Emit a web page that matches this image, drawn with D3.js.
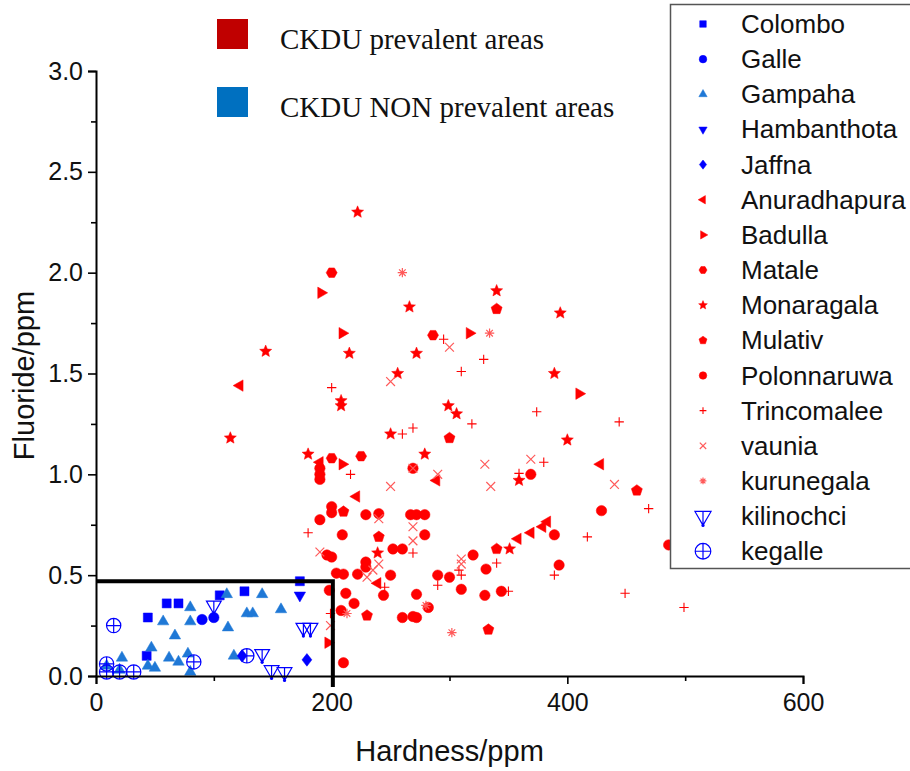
<!DOCTYPE html>
<html>
<head>
<meta charset="utf-8">
<script src="https://cdn.jsdelivr.net/npm/d3@7"></script>
<style>
  body { margin: 0; background: #fff; }
  svg { display: block; }
</style>
</head>
<body>
<svg id="chart" width="910" height="771"></svg>
<script>
// Hardness (ppm), Fluoride (ppm) pairs for each district
const colombo = [[44,0.29],[60,0.36],[70,0.36],[43,0.10],[105,0.40],[126,0.42],[173,0.47]];
const galle = [[90,0.28],[100,0.29]];
const gampaha = [[80,0.34],[57,0.27],[80,0.27],[67,0.20],[111,0.405],[141,0.405],[128,0.31],[133,0.31],
  [157,0.33],[112,0.24],[47,0.14],[62,0.09],[70,0.07],[78,0.11],[117,0.10],[22,0.09],[44,0.05],[50,0.04],
  [80,0.02],[9,0.05],[20,0.03]];
const hambanthota = [[173,0.40]];
const jaffna = [[124,0.10],[179,0.08]];
const anuradhapura = [[122,1.44],[190,1.06],[221,0.89],[289,0.97],[239,0.46],[358,0.68],[369,0.71],
  [379,0.74],[383,0.765],[428,1.05]];
const badulla = [[191,1.90],[209,1.70],[209,1.05],[317,1.70],[410,1.40],[197,0.165]];
const matale = [[200,2.0],[200,1.08],[225,1.09],[286,1.69]];
const monaragala = [[222,2.30],[144,1.61],[215,1.60],[208,1.365],[208,1.34],[114,1.18],[180,1.10],
  [279,1.10],[266,1.83],[340,1.91],[394,1.80],[272,1.60],[256,1.50],[389,1.50],[299,1.34],[306,1.30],
  [250,1.20],[400,1.17],[359,0.97],[351,0.63],[239,0.61]];
const mulativ = [[340,1.82],[300,1.18],[459,0.92],[210,0.815],[240,0.69],[340,0.63],[333,0.23],[230,0.30]];
const polonnaruwa = [[190,1.03],[190,1.0],[190,0.975],[200,0.84],[200,0.81],[190,0.775],[229,0.80],
  [240,0.805],[209,0.70],[196,0.60],[200,0.59],[204,0.51],[210,0.505],[222,0.505],[229,0.565],[229,0.54],
  [198,0.425],[212,0.41],[219,0.36],[208,0.325],[267,0.80],[272,0.80],[279,0.80],[279,0.70],[252,0.63],
  [260,0.63],[250,0.50],[244,0.40],[272,0.405],[282,0.34],[260,0.29],[269,0.295],[272,0.29],[210,0.066],
  [369,1.0],[320,0.60],[331,0.53],[393,0.55],[389,0.70],[290,0.50],[300,0.49],[310,0.43],[330,0.40],
  [344,0.42],[429,0.82],[486,0.65],[269,1.03]];
const trincomalee = [[200,1.43],[216,1.0],[180,0.71],[269,0.61],[245,0.44],[199,0.31],[295,1.67],
  [329,1.57],[310,1.51],[374,1.31],[319,1.25],[444,1.26],[260,1.20],[269,1.23],[380,1.06],[359,1.005],
  [340,0.56],[308,0.525],[310,0.50],[389,0.50],[290,0.45],[350,0.42],[417,0.69],[469,0.83],[449,0.41],
  [499,0.34]];
const vaunia = [[269,1.03],[250,0.94],[240,0.78],[269,0.74],[269,0.67],[190,0.615],[240,0.555],
  [235,0.525],[230,0.49],[199,0.25],[300,1.63],[250,1.46],[290,1.0],[330,1.05],[369,1.075],[335,0.94],
  [310,0.58],[310,0.555],[440,0.95]];
const kurunegala = [[260,2.0],[334,1.70],[213,0.31],[280,0.35],[302,0.215]];
const kilinochci = [[100,0.35],[141,0.11],[149,0.03],[160,0.02],[176,0.24],[182,0.24]];
const kegalle = [[15,0.25],[9,0.06],[9,0.02],[20,0.02],[32,0.02],[83,0.07],[128,0.10]];

const xTicks = [0, 200, 400, 600];
const yTicks = [0, 0.5, 1.0, 1.5, 2.0, 2.5, 3.0];
const boxLimits = { hardness: 201, fluoride: 0.47 };

const BLUE = "#0000ff", LBLUE = "#1f78d6", RED = "#ff0000", PINK = "#ff5a5a";

const series = [
  { name: "Colombo", data: colombo, shape: "square", color: BLUE },
  { name: "Galle", data: galle, shape: "circle", color: BLUE },
  { name: "Gampaha", data: gampaha, shape: "triUp", color: LBLUE },
  { name: "Hambanthota", data: hambanthota, shape: "triDown", color: BLUE },
  { name: "Jaffna", data: jaffna, shape: "diamond", color: BLUE },
  { name: "Anuradhapura", data: anuradhapura, shape: "triLeft", color: RED },
  { name: "Badulla", data: badulla, shape: "triRight", color: RED },
  { name: "Matale", data: matale, shape: "hexagon", color: RED },
  { name: "Monaragala", data: monaragala, shape: "star", color: RED },
  { name: "Mulativ", data: mulativ, shape: "pentagon", color: RED },
  { name: "Polonnaruwa", data: polonnaruwa, shape: "circle", color: RED },
  { name: "Trincomalee", data: trincomalee, shape: "plus", color: RED },
  { name: "vaunia", data: vaunia, shape: "cross", color: PINK },
  { name: "kurunegala", data: kurunegala, shape: "asterisk", color: PINK },
  { name: "kilinochci", data: kilinochci, shape: "funnel", color: BLUE },
  { name: "kegalle", data: kegalle, shape: "globe", color: BLUE }
];

const areaKeys = [
  { label: "CKDU prevalent areas", color: "#c00000" },
  { label: "CKDU NON prevalent areas", color: "#0070c0" }
];

const svg = d3.select("#chart");
const x = d3.scaleLinear().domain([0, 600]).range([96, 803]);
const y = d3.scaleLinear().domain([0, 3]).range([676, 71]);

const SANS = "'Liberation Sans', Arial, sans-serif";

// ---- marker geometry ----
function poly(n, R, rot) {
  const pts = d3.range(n).map(i => {
    const a = rot + i * 2 * Math.PI / n;
    return [R * Math.sin(a), -R * Math.cos(a)];
  });
  return "M" + pts.map(p => p[0].toFixed(2) + "," + p[1].toFixed(2)).join("L") + "Z";
}
function starPath(R) {
  const pts = d3.range(10).map(i => {
    const a = i * Math.PI / 5;
    const r = i % 2 ? R * 0.45 : R;
    return [r * Math.sin(a), -r * Math.cos(a)];
  });
  return "M" + pts.map(p => p[0].toFixed(2) + "," + p[1].toFixed(2)).join("L") + "Z";
}
function circ(r) {
  return `M${-r},0A${r},${r} 0 1,0 ${r},0A${r},${r} 0 1,0 ${-r},0Z`;
}
function markerPath(shape, s) {
  switch (shape) {
    case "square": return `M${-s*0.82},${-s*0.82}h${s*1.64}v${s*1.64}h${-s*1.64}Z`;
    case "circle": return circ(s * 0.95);
    case "triUp": return poly(3, s * 1.2, 0);
    case "triDown": return poly(3, s * 1.2, Math.PI);
    case "triLeft": return poly(3, s * 1.2, -Math.PI / 2);
    case "triRight": return poly(3, s * 1.2, Math.PI / 2);
    case "diamond": return `M0,${-s*1.15}L${s*0.9},0L0,${s*1.15}L${-s*0.9},0Z`;
    case "hexagon": return poly(6, s * 1.0, Math.PI / 6);
    case "pentagon": return poly(5, s * 1.05, 0);
    case "star": return starPath(s * 1.15);
    case "plus": return `M${-s*0.85},0H${s*0.85}M0,${-s*0.85}V${s*0.85}`;
    case "cross": return `M${-s*0.8},${-s*0.8}L${s*0.8},${s*0.8}M${-s*0.8},${s*0.8}L${s*0.8},${-s*0.8}`;
    case "asterisk": return `M${-s*0.85},0H${s*0.85}M0,${-s*0.85}V${s*0.85}` +
      `M${-s*0.6},${-s*0.6}L${s*0.6},${s*0.6}M${-s*0.6},${s*0.6}L${s*0.6},${-s*0.6}`;
    case "funnel": return poly(3, s * 1.55, Math.PI) + `M0,${-s*0.78}V${s*1.55}`;
    case "globe": return circ(s * 1.3) + `M${-s*1.3},0H${s*1.3}M0,${-s*1.3}V${s*1.3}`;
  }
}
const outlined = new Set(["plus", "cross", "asterisk", "funnel", "globe"]);

function drawMarker(g, shape, color, s) {
  const p = g.append("path").attr("d", markerPath(shape, s));
  if (outlined.has(shape)) {
    p.attr("fill", "none").attr("stroke", color).attr("stroke-width", shape === "plus" ? 1.1 : 1.2);
  } else {
    p.attr("fill", color).attr("stroke", color).attr("stroke-width", 0.5);
  }
  if (shape === "funnel") {
    g.append("circle").attr("cy", s * 1.55).attr("r", 1.6).attr("fill", color);
  }
}

// ---- data points ----
const plot = svg.append("g");
series.forEach(sr => {
  sr.data.forEach(d => {
    const g = plot.append("g").attr("transform", `translate(${x(d[0])},${y(d[1])})`);
    drawMarker(g, sr.shape, sr.color, 5.5);
  });
});

// ---- highlighted low hardness / low fluoride region ----
svg.append("path")
  .attr("d", `M${x(0)},${y(boxLimits.fluoride)}H${x(boxLimits.hardness)}V${y(0) + 11}`)
  .attr("fill", "none").attr("stroke", "#000").attr("stroke-width", 4);

// ---- axes ----
svg.append("g").attr("transform", `translate(0,${y(0)})`)
  .call(d3.axisBottom(x).tickValues(xTicks).tickFormat(d3.format("d")).tickSize(8).tickPadding(9));
svg.append("g").attr("transform", `translate(0,${y(0)})`)
  .call(d3.axisBottom(x).tickValues([100, 300, 500]).tickFormat("").tickSize(5))
  .call(g => g.select(".domain").remove());
svg.append("g").attr("transform", `translate(${x(0)},0)`)
  .call(d3.axisLeft(y).tickValues(yTicks).tickFormat(d3.format(".1f")).tickSize(8).tickPadding(5));
svg.append("g").attr("transform", `translate(${x(0)},0)`)
  .call(d3.axisLeft(y).tickValues([0.25, 0.75, 1.25, 1.75, 2.25, 2.75]).tickFormat("").tickSize(5))
  .call(g => g.select(".domain").remove());

svg.selectAll(".domain").attr("stroke", "#000").attr("stroke-width", 2);
svg.selectAll(".tick line").attr("stroke", "#000").attr("stroke-width", 1.6);
svg.selectAll(".tick text")
  .attr("font-family", SANS)
  .attr("font-size", 25).attr("fill", "#111");

svg.append("text")
  .attr("transform", `translate(34,${(y(0) + y(3)) / 2 + 2}) rotate(-90)`)
  .attr("text-anchor", "middle")
  .attr("font-family", SANS)
  .attr("font-size", 29).attr("fill", "#111")
  .text("Fluoride/ppm");
svg.append("text")
  .attr("x", (x(0) + x(600)) / 2).attr("y", 761)
  .attr("text-anchor", "middle")
  .attr("font-family", SANS)
  .attr("font-size", 29).attr("fill", "#111")
  .text("Hardness/ppm");

// ---- district legend ----
const leg = svg.append("g");
leg.append("rect").attr("x", 670.5).attr("y", 4.5).attr("width", 260).attr("height", 564)
  .attr("fill", "#fff").attr("stroke", "#555").attr("stroke-width", 1.5);
series.forEach((sr, i) => {
  const cy = 24 + i * 35.15;
  const g = leg.append("g").attr("transform", `translate(703,${cy})`);
  drawMarker(g, sr.shape, sr.color, sr.shape === "funnel" || sr.shape === "globe" ? 6 : 4);
  leg.append("text").attr("x", 741).attr("y", cy + 9)
    .attr("font-family", SANS)
    .attr("font-size", 26).attr("fill", "#111")
    .text(sr.name);
});

// ---- area colour key ----
areaKeys.forEach((k, i) => {
  const top = 19 + i * 68;
  svg.append("rect").attr("x", 217).attr("y", top).attr("width", 31).attr("height", 30)
    .attr("fill", k.color);
  svg.append("text").attr("x", 280).attr("y", top + 30)
    .attr("font-family", "'Liberation Serif', 'Times New Roman', serif")
    .attr("font-size", 29).attr("fill", "#111")
    .text(k.label);
});
</script>
</body>
</html>
